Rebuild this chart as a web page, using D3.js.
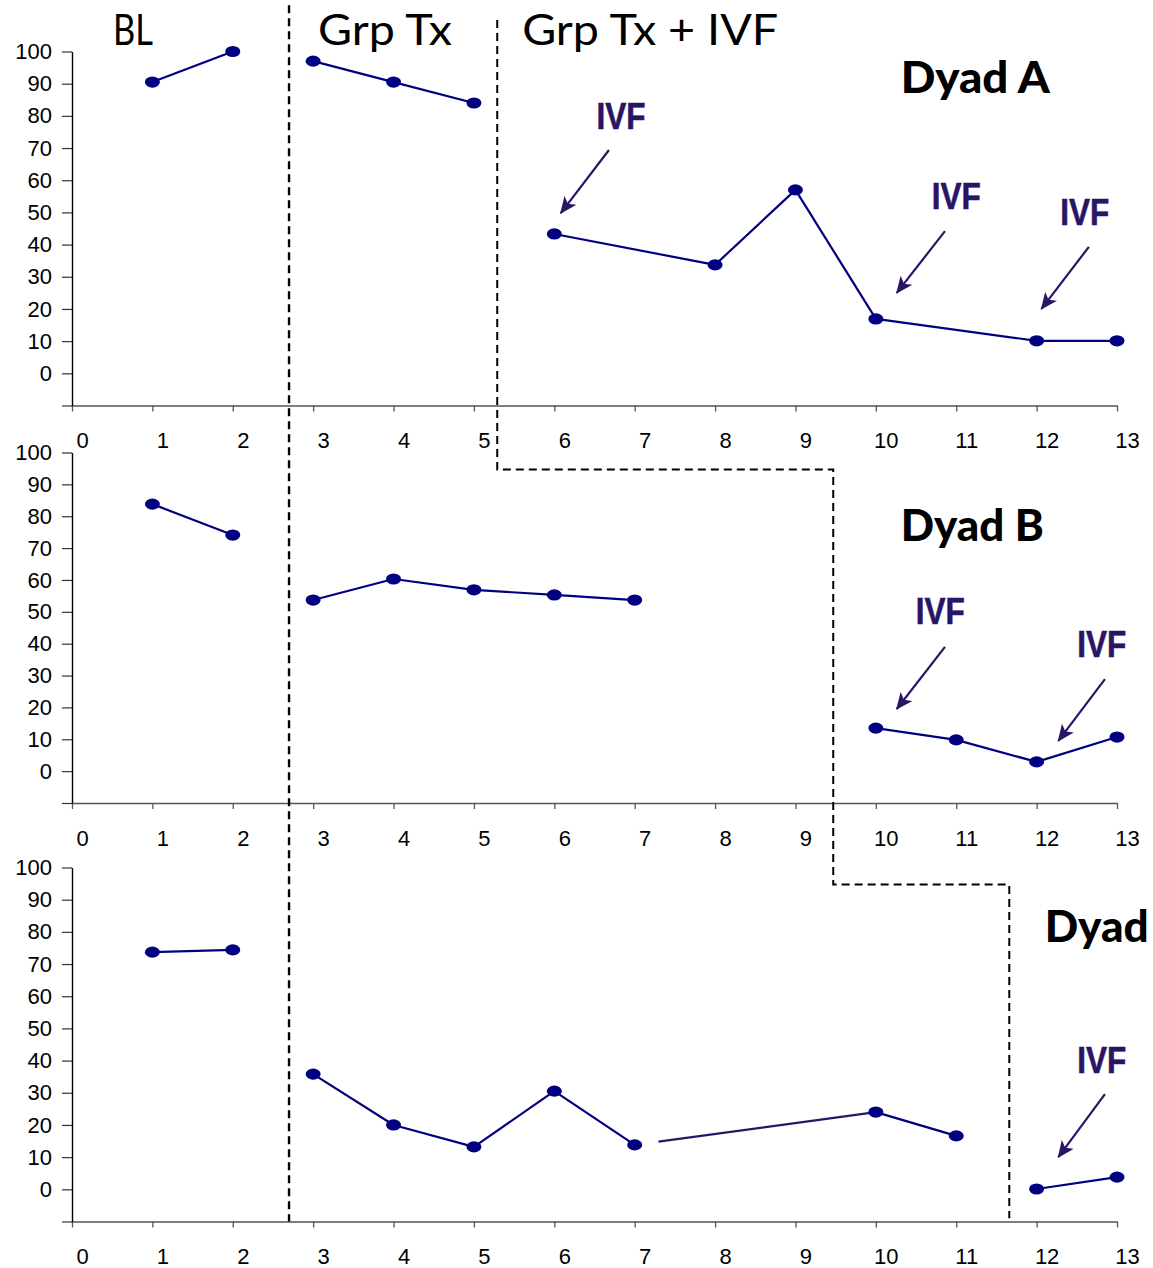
<!DOCTYPE html>
<html>
<head>
<meta charset="utf-8">
<script src="https://cdnjs.cloudflare.com/ajax/libs/d3/7.8.5/d3.min.js"></script>
<style>
  body { margin: 0; background: #fff; }
  svg { display: block; }
</style>
</head>
<body>
<div id="chart"></div>
<script>
// axis ticks
const xTicks = d3.range(0, 14);
const yTicks = [-10, 0, 10, 20, 30, 40, 50, 60, 70, 80, 90, 100];

// phase 0 = BL, 1 = Grp Tx, 2 = Grp Tx + IVF
const phaseNames = ["BL", "Grp Tx", "Grp Tx + IVF"];

const sessionsA = [1, 2, 3, 4, 5, 6, 8, 9, 10, 12, 13];
const valuesA = [90.5, 100, 97, 90.5, 84, 43.3, 33.7, 57, 16.9, 10.1, 10.1];
const phaseA = [0, 0, 1, 1, 1, 2, 2, 2, 2, 2, 2];

const sessionsB = [1, 2, 3, 4, 5, 6, 7, 10, 11, 12, 13];
const valuesB = [83.8, 74.1, 53.7, 60.3, 56.9, 55.3, 53.7, 13.5, 9.8, 2.9, 10.7];
const phaseB = [0, 0, 1, 1, 1, 1, 1, 2, 2, 2, 2];

const sessionsC = [1, 2, 3, 4, 5, 6, 7, 10, 11, 12, 13];
const valuesC = [73.7, 74.4, 35.8, 20, 13.2, 30.5, 13.8, 24, 16.6, 0.1, 3.8];
const phaseC = [0, 0, 1, 1, 1, 1, 1, 1, 1, 2, 2];
// segments whose start is broken off (session the segment starts at)
const brokenC = [7];

// IVF arrows: [labelSession, labelValue, fromSession, fromValue, toSession, toValue]
const ivfA = [[6.83, 80, 6.68, 69.4, 6.08, 49.8], [11.0, 55.1, 10.86, 44.2, 10.26, 25], [12.6, 50.1, 12.65, 39.3, 12.06, 20]];
const ivfB = [[10.8, 50.3, 10.86, 39, 10.26, 19.5], [12.81, 39.9, 12.85, 28.9, 12.27, 9.5]];
const ivfC = [[12.81, 40.2, 12.85, 29.6, 12.27, 10]];

// phase change lines, in session units
const changeBL = 2.70;
const changeIVF = [5.29, 9.47, 11.66];

const width = 1153, height = 1268;
const navy = "#000080", ivfColor = "#2a1466";

const svg = d3.select("#chart").append("svg")
    .attr("width", width)
    .attr("height", height);

svg.append("defs").append("marker")
    .attr("id", "arrow")
    .attr("viewBox", "0 0 16 14")
    .attr("refX", 15).attr("refY", 7)
    .attr("markerWidth", 17).attr("markerHeight", 15)
    .attr("markerUnits", "userSpaceOnUse")
    .attr("orient", "auto")
    .append("path")
    .attr("d", "M0,0 L16,7 L0,14 L4,7 z")
    .attr("fill", ivfColor);

const x = d3.scaleLinear().domain([0, 13]).range([72, 1117]);

// the third label runs off the right edge in the original, only "Dyad" shows
const panels = [
    {name: "Dyad A", top: 51.5, bottom: 405.5, s: sessionsA, v: valuesA, p: phaseA, broken: [], ivf: ivfA, label: [10.31, 87], labelW: 149},
    {name: "Dyad B", top: 452.5, bottom: 803, s: sessionsB, v: valuesB, p: phaseB, broken: [], ivf: ivfB, label: [10.31, 72.2], labelW: 143},
    {name: "Dyad", top: 867.5, bottom: 1221.5, s: sessionsC, v: valuesC, p: phaseC, broken: brokenC, ivf: ivfC, label: [12.1, 76.9], labelW: 104}
];

panels.forEach(panel => {
    const y = d3.scaleLinear().domain([-10, 100]).range([panel.bottom, panel.top]);
    panel.y = y;
    const g = svg.append("g");

    // x axis
    const gx = g.append("g")
        .attr("transform", "translate(0," + y(-10) + ")")
        .call(d3.axisBottom(x).tickValues(xTicks).tickSize(6).tickSizeOuter(0).tickPadding(21));
    gx.select(".domain").attr("stroke", "#555").attr("stroke-width", 1.6);
    gx.selectAll(".tick line").attr("stroke", "#555").attr("stroke-width", 1.3);
    gx.selectAll(".tick text")
        .attr("dx", 10)
        .attr("font-family", "'Liberation Sans', Arial, sans-serif")
        .attr("font-size", 22)
        .attr("fill", "#000");

    // y axis
    const gy = g.append("g")
        .attr("transform", "translate(" + x(0) + ",0)")
        .call(d3.axisLeft(y).tickValues(yTicks).tickSize(10).tickSizeOuter(0).tickPadding(10)
            .tickFormat(d => d < 0 ? "" : d));
    gy.select(".domain").attr("stroke", "#000").attr("stroke-width", 1.4);
    gy.selectAll(".tick line").attr("stroke", "#333").attr("stroke-width", 1.2);
    gy.selectAll(".tick text")
        .attr("font-family", "'Liberation Sans', Arial, sans-serif")
        .attr("font-size", 22)
        .attr("fill", "#000");

    // connecting lines, only within a phase
    const segs = [];
    for (let i = 0; i < panel.s.length - 1; i++) {
        if (panel.p[i] === panel.p[i + 1]) {
            segs.push({a: i, b: i + 1, broken: panel.broken.includes(panel.s[i])});
        }
    }
    g.selectAll(".seg")
        .data(segs)
        .enter()
        .append("line")
        .attr("x1", d => x(panel.s[d.a]))
        .attr("y1", d => y(panel.v[d.a]))
        .attr("x2", d => x(panel.s[d.b]))
        .attr("y2", d => y(panel.v[d.b]))
        .attr("stroke", d => d.broken ? ivfColor : navy)
        .attr("stroke-width", 2.2)
        .attr("stroke-dasharray", d => d.broken ? "0 24 2000" : null);

    // markers
    g.selectAll(".pt")
        .data(panel.s)
        .enter()
        .append("ellipse")
        .attr("cx", d => x(d))
        .attr("cy", (d, i) => y(panel.v[i]))
        .attr("rx", 7.5)
        .attr("ry", 5.6)
        .attr("fill", navy);

    // IVF annotations
    panel.ivf.forEach(a => {
        g.append("line")
            .attr("x1", x(a[2])).attr("y1", y(a[3]))
            .attr("x2", x(a[4])).attr("y2", y(a[5]))
            .attr("stroke", ivfColor)
            .attr("stroke-width", 2.2)
            .attr("marker-end", "url(#arrow)");
        g.append("text")
            .attr("x", x(a[0]))
            .attr("y", y(a[1]) + 13)
            .attr("text-anchor", "middle")
            .attr("font-family", "'Liberation Sans Narrow', 'Liberation Sans', Arial, sans-serif")
            .attr("font-weight", "bold")
            .attr("font-size", 36)
            .attr("textLength", 49)
            .attr("lengthAdjust", "spacingAndGlyphs")
            .attr("fill", ivfColor)
            .attr("stroke", ivfColor)
            .attr("stroke-width", 0.6)
            .text("IVF");
    });

    // dyad label
    g.append("text")
        .attr("x", x(panel.label[0]))
        .attr("y", y(panel.label[1]))
        .attr("font-family", "Lato, 'Open Sans', sans-serif")
        .attr("font-weight", 900)
        .attr("font-size", 44)
        .attr("textLength", panel.labelW)
        .attr("lengthAdjust", "spacingAndGlyphs")
        .attr("fill", "#000")
        .text(panel.name);
});

const [pA, pB, pC] = panels;

// phase titles
const titleAt = [0.51, 3.06, 5.60];
const titleWidth = [40, 134, 256];
phaseNames.forEach((name, i) => {
    svg.append("text")
        .attr("x", x(titleAt[i]))
        .attr("y", pA.y(102))
        .attr("font-family", "Lato, 'Open Sans', sans-serif")
        .attr("font-size", 42)
        .attr("textLength", titleWidth[i])
        .attr("lengthAdjust", "spacingAndGlyphs")
        .attr("fill", "#000")
        .text(name);
});

// phase change lines
const line = d3.line();
svg.append("path")
    .attr("d", line([[x(changeBL), pA.y(114.4)], [x(changeBL), pC.y(-10)]]))
    .attr("fill", "none")
    .attr("stroke", "#000")
    .attr("stroke-width", 2.4)
    .attr("stroke-dasharray", "8 5");

const stepV = 94.7;
svg.append("path")
    .attr("d", line([
        [x(changeIVF[0]), pA.y(109.8)],
        [x(changeIVF[0]), pB.y(stepV)],
        [x(changeIVF[1]), pB.y(stepV)],
        [x(changeIVF[1]), pC.y(stepV)],
        [x(changeIVF[2]), pC.y(stepV)],
        [x(changeIVF[2]), pC.y(-9)]
    ]))
    .attr("fill", "none")
    .attr("stroke", "#000")
    .attr("stroke-width", 2)
    .attr("stroke-dasharray", "8 5");
</script>
</body>
</html>
